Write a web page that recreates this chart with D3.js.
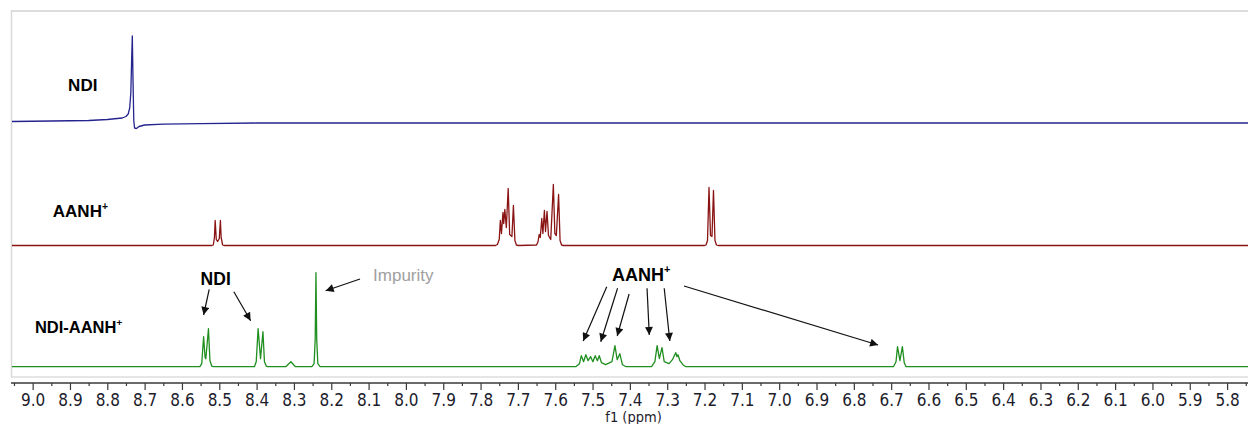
<!DOCTYPE html>
<html>
<head>
<meta charset="utf-8">
<script src="https://cdn.jsdelivr.net/npm/d3@7"></script>
<style>
  html, body { margin: 0; padding: 0; background: #fff; }
  svg { display: block; }
</style>
</head>
<body>
<svg id="chart" width="1248" height="424"></svg>
<script>
// ---------------- DATA (ppm, intensity above each trace's baseline) ----------------
const ndiTrace = [
  [9.06, 1.5], [8.95, 2], [8.85, 2.5], [8.80, 3.5], [8.76, 5], [8.75, 6.5], [8.744, 9],
  [8.740, 15], [8.737, 30], [8.735, 60], [8.733, 87], [8.731, 40], [8.729, 2],
  [8.727, -5], [8.722, -5.5], [8.715, -3.5], [8.70, -2], [8.65, -1.2], [8.55, -0.6],
  [8.40, 0], [7.00, 0], [5.744, 0]
];

const aanhTrace = [
  [9.06, 0], [8.520, 0], [8.516, 0.5], [8.513, 8], [8.511, 25], [8.508, 6], [8.5045, 4],
  [8.500, 7], [8.497, 25], [8.495, 8], [8.491, 0.5], [8.487, 0],
  [7.760, 0], [7.755, 1], [7.750, 6], [7.747, 25], [7.744, 12], [7.740, 33], [7.738, 22],
  [7.735, 36], [7.731, 18], [7.726, 57], [7.722, 11], [7.716, 9], [7.712, 40],
  [7.708, 5], [7.704, 0.5], [7.698, 0],
  [7.650, 0.5], [7.646, 4], [7.643, 11], [7.640, 8], [7.636, 27], [7.633, 12],
  [7.629, 35], [7.626, 14], [7.622, 34], [7.618, 10], [7.612, 6], [7.605, 61],
  [7.601, 12], [7.597, 10], [7.591, 51], [7.587, 5], [7.583, 0.5], [7.578, 0],
  [7.200, 0], [7.196, 0.5], [7.192, 5], [7.188, 58], [7.184, 10], [7.180, 9],
  [7.176, 55], [7.172, 5], [7.168, 0.5], [7.164, 0], [5.744, 0]
];

const complexTrace = [
  [9.06, 0], [8.552, 0], [8.547, 3], [8.542, 30], [8.538, 9], [8.536, 8], [8.529, 38],
  [8.525, 6], [8.520, 0.5], [8.515, 0],
  [8.406, 0], [8.401, 5], [8.396, 38], [8.3895, 8], [8.383, 35], [8.379, 5], [8.374, 0.5], [8.370, 0],
  [8.322, 0], [8.308, 5], [8.296, 0],
  [8.252, 0], [8.246, 3], [8.243, 28], [8.241, 94], [8.239, 28], [8.236, 3], [8.230, 0],
  [7.545, 0], [7.535, 3], [7.530, 11], [7.524, 5], [7.518, 12], [7.512, 6], [7.505, 10],
  [7.499, 5], [7.493, 11], [7.487, 6], [7.482, 11], [7.476, 4], [7.465, 2], [7.448, 5],
  [7.440, 21], [7.434, 7], [7.427, 13], [7.420, 2], [7.410, 0],
  [7.342, 0], [7.333, 5], [7.327, 21], [7.321, 8], [7.314, 19], [7.308, 5], [7.295, 3],
  [7.286, 7], [7.281, 11], [7.277, 14], [7.274, 10], [7.271, 12], [7.266, 6], [7.258, 2], [7.250, 0],
  [6.694, 0], [6.687, 5], [6.683, 20], [6.6765, 6], [6.670, 20], [6.665, 4], [6.660, 0], [5.744, 0]
];

const traceNames = ["NDI", "AANH", "NDI-AANH"];
const traceColors = ["#24248f", "#8a1414", "#1f8f1f"];

// major tick labels (ppm)
const majorTicks = [9.0, 8.9, 8.8, 8.7, 8.6, 8.5, 8.4, 8.3, 8.2, 8.1, 8.0, 7.9, 7.8, 7.7, 7.6, 7.5,
  7.4, 7.3, 7.2, 7.1, 7.0, 6.9, 6.8, 6.7, 6.6, 6.5, 6.4, 6.3, 6.2, 6.1, 6.0, 5.9, 5.8];
const minorTicks = [9.05, 8.95, 8.85, 8.75, 8.65, 8.55, 8.45, 8.35, 8.25, 8.15, 8.05, 7.95, 7.85,
  7.75, 7.65, 7.55, 7.45, 7.35, 7.25, 7.15, 7.05, 6.95, 6.85, 6.75, 6.65, 6.55, 6.45, 6.35, 6.25,
  6.15, 6.05, 5.95, 5.85, 5.75];

// annotations in the NDI-AANH+ panel: [ppm, intensity] start -> tip
const arrows = [
  [8.527, 77.4, 8.542, 51.7],
  [8.461, 75.0, 8.416, 46.0],
  [8.123, 87.7, 8.215, 76.0],
  [7.462, 80.0, 7.525, 25.7],
  [7.433, 78.4, 7.478, 25.0],
  [7.402, 72.7, 7.434, 30.7],
  [7.354, 78.4, 7.348, 31.7],
  [7.308, 78.4, 7.293, 25.7],
  [7.255, 80.7, 6.735, 21.7]
];

// ---------------- LAYOUT ----------------
const W = 1248, H = 424;
const plotLeft = 11, plotRight = 1248, plotTop = 11, plotBottom = 377, axisY = 383;
const svg = d3.select("#chart");

const x = d3.scaleLinear().domain([9.058, 5.744]).range([plotLeft, plotRight]);
// each panel: intensity -> pixel
const baselines = [123, 245.5, 366.7];
const yScales = baselines.map(b => d3.scaleLinear().domain([0, 100]).range([b, b - 100]));

// frame
svg.append("line").attr("x1", plotLeft).attr("x2", W).attr("y1", 11).attr("y2", 11)
  .attr("stroke", "#dcdcdc").attr("stroke-width", 2);
svg.append("line").attr("x1", 11.5).attr("x2", 11.5).attr("y1", 10).attr("y2", plotBottom)
  .attr("stroke", "#d8d8d8").attr("stroke-width", 1.5);
svg.append("line").attr("x1", plotLeft).attr("x2", W).attr("y1", plotBottom).attr("y2", plotBottom)
  .attr("stroke", "#dcdcdc").attr("stroke-width", 1.5);

// clip
svg.append("defs").append("clipPath").attr("id", "clip")
  .append("rect").attr("x", plotLeft + 1).attr("y", plotTop).attr("width", plotRight - plotLeft)
  .attr("height", plotBottom - plotTop);

const traces = [ndiTrace, aanhTrace, complexTrace];
const g = svg.append("g").attr("clip-path", "url(#clip)");
traces.forEach((tr, i) => {
  const line = d3.line().x(d => x(d[0])).y(d => yScales[i](d[1]));
  g.append("path").datum(tr).attr("d", line)
    .attr("fill", "none").attr("stroke", traceColors[i]).attr("stroke-width", 1.3)
    .attr("stroke-linejoin", "round");
});

// axis
const tickFont = "'Liberation Sans Narrow', 'DejaVu Sans Condensed', 'Liberation Sans', sans-serif";
const axisMajor = d3.axisBottom(x).tickValues(majorTicks).tickSize(7).tickPadding(6)
  .tickFormat(d3.format(".1f"));
const ag = svg.append("g").attr("transform", `translate(0,${axisY})`).call(axisMajor);
ag.select(".domain").attr("d", `M${plotLeft},0H${W}`).attr("stroke", "#3a3a3a").attr("stroke-width", 1.6);
ag.selectAll(".tick line").attr("stroke", "#3a3a3a").attr("stroke-width", 1.2);
ag.selectAll(".tick text")
  .attr("font-family", tickFont)
  .attr("font-size", 17).attr("fill", "#1c1c2c").attr("dy", 0).attr("y", 22.5);
const axisMinor = d3.axisBottom(x).tickValues(minorTicks).tickSize(3).tickFormat("");
const mg = svg.append("g").attr("transform", `translate(0,${axisY})`).call(axisMinor);
mg.select(".domain").remove();
mg.selectAll(".tick line").attr("stroke", "#3a3a3a").attr("stroke-width", 1.2);

svg.append("text").attr("x", x(7.39)).attr("y", 422)
  .attr("text-anchor", "middle")
  .attr("font-family", tickFont)
  .attr("font-size", 14.5).attr("fill", "#1c1c2c").text("f1 (ppm)");

// labels
const boldFont = "'Liberation Sans', Arial, sans-serif";
function label(ppm, panel, inten, main, sup, size, color, weight) {
  const t = svg.append("text").attr("x", x(ppm)).attr("y", yScales[panel](inten))
    .attr("font-family", boldFont).attr("font-size", size).attr("font-weight", weight)
    .attr("fill", color);
  t.append("tspan").text(main);
  if (sup) t.append("tspan").attr("font-size", size * 0.6).attr("dy", -size * 0.42).text(sup);
}
label(8.905, 0, 32, "NDI", null, 17, "#000", "bold");
label(8.946, 1, 28.8, "AANH", "+", 17, "#000", "bold");
label(8.994, 2, 33.7, "NDI-AANH", "+", 16.5, "#000", "bold");
label(8.550, 2, 81.7, "NDI", null, 17.5, "#000", "bold");
label(7.448, 2, 86, "AANH", "+", 18, "#000", "bold");
label(8.088, 2, 86, "Impurity", null, 17, "#a0a0a0", "normal");

// arrows
svg.append("defs").append("marker").attr("id", "ah").attr("viewBox", "0 0 10 10")
  .attr("refX", 10).attr("refY", 5).attr("markerWidth", 11).attr("markerHeight", 8)
  .attr("markerUnits", "userSpaceOnUse").attr("orient", "auto")
  .append("path").attr("d", "M0,0L10,5L0,10Z").attr("fill", "#111");
svg.selectAll(".arrow").data(arrows).enter().append("line").attr("class", "arrow")
  .attr("x1", d => x(d[0])).attr("y1", d => yScales[2](d[1]))
  .attr("x2", d => x(d[2])).attr("y2", d => yScales[2](d[3]))
  .attr("stroke", "#111").attr("stroke-width", 1.2).attr("marker-end", "url(#ah)");
</script>
</body>
</html>
